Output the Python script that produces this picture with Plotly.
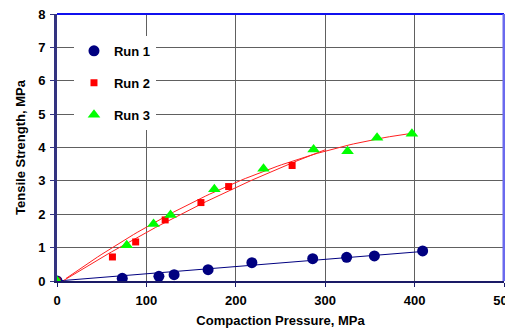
import numpy as np
import plotly.graph_objects as go

run1_x = [0, 73, 114, 131, 169, 218, 286, 324, 355, 409]
run1_y = [0, 0.08, 0.14, 0.19, 0.34, 0.55, 0.67, 0.71, 0.75, 0.90]
run2_x = [0, 62, 88, 121, 161, 192, 263]
run2_y = [0, 0.72, 1.17, 1.83, 2.35, 2.83, 3.46]
run3_x = [0, 78, 108, 127, 176, 231, 287, 325, 358, 397]
run3_y = [0, 1.07, 1.71, 1.98, 2.75, 3.36, 3.94, 3.89, 4.29, 4.41]

x_ticks = [0, 100, 200, 300, 400, 500]
y_ticks = [0, 1, 2, 3, 4, 5, 6, 7, 8]

FONT = "Liberation Sans"


def fit_poly(xs, ys, deg, x_end=None):
    c = np.polyfit(xs, ys, deg)
    xe = max(xs) if x_end is None else x_end
    xx = np.linspace(min(xs), xe, 80)
    yy = np.polyval(c, xx)
    m = yy >= 0
    return xx[m], yy[m]


def fit_origin(xs, ys):
    xa, ya = np.array(xs, float), np.array(ys, float)
    k = (xa * ya).sum() / (xa * xa).sum()
    xx = np.array([0, xa.max()])
    return xx, k * xx


fig = go.Figure()

fx, fy = fit_origin(run1_x, run1_y)
fig.add_trace(go.Scatter(x=fx, y=fy, mode="lines", line=dict(color="#000080", width=1),
                         showlegend=False, hoverinfo="skip"))
fx, fy = fit_poly(run2_x, run2_y, 2, x_end=300)
fig.add_trace(go.Scatter(x=fx, y=fy, mode="lines", line=dict(color="#ff2020", width=1),
                         showlegend=False, hoverinfo="skip"))
fx, fy = fit_poly(run3_x, run3_y, 2)
fig.add_trace(go.Scatter(x=fx, y=fy, mode="lines", line=dict(color="#ff2020", width=1),
                         showlegend=False, hoverinfo="skip"))

fig.add_trace(go.Scatter(x=run1_x, y=run1_y, mode="markers", name="<b>Run 1</b>", legendgroup="1",
                         marker=dict(symbol="circle", size=11, color="#000080")))
fig.add_trace(go.Scatter(x=run2_x, y=run2_y, mode="markers", name="<b>Run 2</b>", legendgroup="2",
                         marker=dict(symbol="square", size=7, color="#ff0000")))
fig.add_trace(go.Scatter(x=run3_x, y=run3_y, mode="markers", name="<b>Run 3</b>", legendgroup="3",
                         marker=dict(symbol="triangle-up", size=11, color="#00ff00")))

# page body has an 8px margin, so the figure is 8px smaller and shifted accordingly
fig.update_layout(
    width=505, height=320,
    margin=dict(l=49, r=9, t=6, b=47),
    paper_bgcolor="white", plot_bgcolor="white",
    font=dict(family=FONT, size=13, color="black"),
    showlegend=True,
    legend=dict(x=0.038, y=0.918, xanchor="left", yanchor="top",
                bgcolor="white", borderwidth=0,
                font=dict(family=FONT, size=13, color="black"),
                tracegroupgap=12, itemwidth=30),
    xaxis=dict(range=[0, 500], tickvals=x_ticks, ticktext=["<b>%d</b>" % v for v in x_ticks],
               automargin=False, ticklabeloverflow="allow", ticklabelstandoff=2,
               showgrid=True, gridcolor="#606060", gridwidth=1, zeroline=False,
               showline=True, linecolor="#1a1a66", linewidth=2,
               ticks="outside", ticklen=4, tickcolor="#1a1a66",
               tickfont=dict(family=FONT, size=13, color="black"),
               title=dict(text="<b>Compaction Pressure, MPa</b>", standoff=10,
                          font=dict(family=FONT, size=13, color="black"))),
    yaxis=dict(range=[0, 8], tickvals=y_ticks, ticktext=["<b>%d</b>" % v for v in y_ticks],
               automargin=False, ticklabeloverflow="allow", ticklabelstandoff=2,
               showgrid=True, gridcolor="#606060", gridwidth=1, zeroline=False,
               showline=True, linecolor="#333380", linewidth=3,
               ticks="outside", ticklen=4, tickcolor="#333380",
               tickfont=dict(family=FONT, size=13, color="black"),
               title=dict(text="<b>Tensile Strength, MPa</b>", standoff=10,
                          font=dict(family=FONT, size=13, color="black"))),
    shapes=[
        dict(type="line", xref="paper", yref="paper", x0=0, x1=1, y0=1, y1=1,
             line=dict(color="#1010ee", width=2)),
        dict(type="line", xref="paper", yref="paper", x0=1, x1=1, y0=0, y1=1,
             line=dict(color="#6a6aee", width=3)),
    ],
)

fig.write_html("out.html")
